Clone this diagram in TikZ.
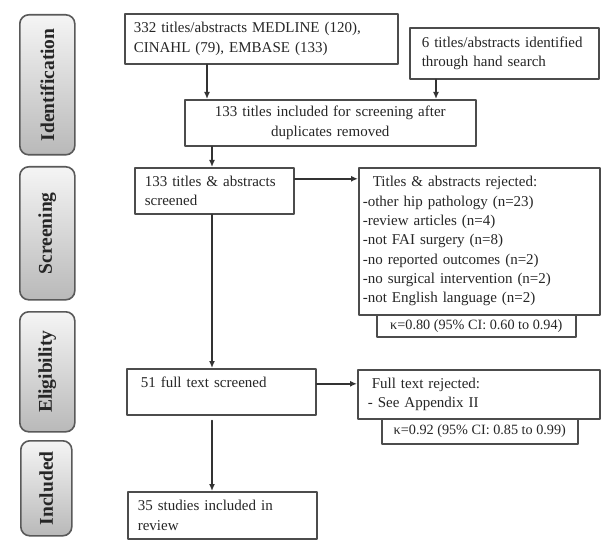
\documentclass[tikz,border=0pt]{standalone}
\usepackage{fontspec}
\setmainfont{Liberation Serif}
\usepackage{graphicx}
\usetikzlibrary{arrows.meta,positioning}

\begin{document}
\begin{tikzpicture}[x=1pt,y=-1pt,>={Latex[length=7pt,width=6pt]},line join=round,line cap=round,
		font=\fontsize{15}{19.3}\selectfont,
		blk/.style={draw=black!70,line width=1.6pt,fill=white,align=left,anchor=north west,inner ysep=0pt,text=black!85},
		kap/.style={blk,align=center,inner sep=0pt,font=\fontsize{14.2}{17}\selectfont},
		phase/.style={draw=black!65,line width=1.6pt,rounded corners=9pt,top color=gray!8,bottom color=gray!55,anchor=north west,inner sep=0pt,font=\fontsize{19.5}{20}\selectfont\bfseries,text=black!85},
		arr/.style={->,draw=black!80,line width=1.7pt}]
	% Khung
	\useasboundingbox [fill=white] (0,0) rectangle (610,548);
	% Cot giai doan
	\node [phase,minimum width=55pt,minimum height=140pt] (ident) at (19,14) {\rotatebox{90}{Identification}};
	\node [phase,minimum width=55pt,minimum height=133pt] (scrn) at (19,166) {\rotatebox{90}{Screening}};
	\node [phase,minimum width=55pt,minimum height=120pt] (elig) at (19,311) {\rotatebox{90}{Eligibility}};
	\node [phase,minimum width=51pt,minimum height=95pt] (incd) at (20,440) {\rotatebox{90}{Included}};
	% Cac hop
	\node [blk,inner xsep=9pt,text width=255pt,minimum height=50pt] (srch) at (124,13) {332 titles/abstracts MEDLINE (120),\\CINAHL (79), EMBASE (133)};
	\node [blk,inner xsep=12pt,text width=165pt,minimum height=51pt] (hand) at (409,27) {6 titles/abstracts identified\\through hand search};
	\node [blk,align=center,inner xsep=6pt,text width=279pt,minimum height=46pt] (dedup) at (184,99) {133 titles included for screening after\\duplicates removed};
	\node [blk,inner xsep=10pt,text width=139pt,minimum height=46pt] (scr) at (134,167) {133 titles \& abstracts\\screened};
	\node [blk,inner xsep=4pt,text width=233pt,minimum height=147pt] (rej) at (358,167) {\hspace*{10pt}Titles \& abstracts rejected:\\-other hip pathology (n=23)\\-review articles (n=4)\\-not FAI surgery (n=8)\\-no reported outcomes (n=2)\\-no surgical intervention (n=2)\\-not English language (n=2)};
	\node [kap,minimum width=199pt,minimum height=22pt] (kap1) at (376,314) {κ=0.80 (95\% CI: 0.60 to 0.94)};
	\node [blk,inner xsep=14pt,text width=161pt,minimum height=46pt] (full) at (126,368) {51 full text screened\\\mbox{}};
	\node [blk,inner xsep=10pt,text width=222pt,minimum height=49pt] (rej2) at (357,369) {\hspace*{4pt}Full text rejected:\\- See Appendix II};
	\node [kap,minimum width=196pt,minimum height=25pt] (kap2) at (381,418) {κ=0.92 (95\% CI: 0.85 to 0.99)};
	\node [blk,inner xsep=10pt,text width=169pt,minimum height=47pt] (incl) at (127,491) {35 studies included in\\review};
	% Mui ten
	\coordinate (a1) at (207,0);
	\coordinate (a2) at (436,0);
	\coordinate (a3) at (212,0);
	\draw [arr] (a1 |- srch.south)--(a1 |- dedup.north);
	\draw [arr] (a2 |- hand.south)--(a2 |- dedup.north);
	\draw [arr] (a3 |- dedup.south)--(a3 |- scr.north);
	\draw [arr] ([yshift=12pt]scr.east)--([yshift=12pt]scr.east -| rej.west);
	\draw [arr] (a3 |- scr.south)--(a3 |- full.north);
	\draw [arr] ([yshift=8pt]full.east)--([yshift=8pt]full.east -| rej2.west);
	\draw [arr] ([yshift=-5pt]a3 |- full.south)--(a3 |- incl.north);
\end{tikzpicture}
\end{document}
